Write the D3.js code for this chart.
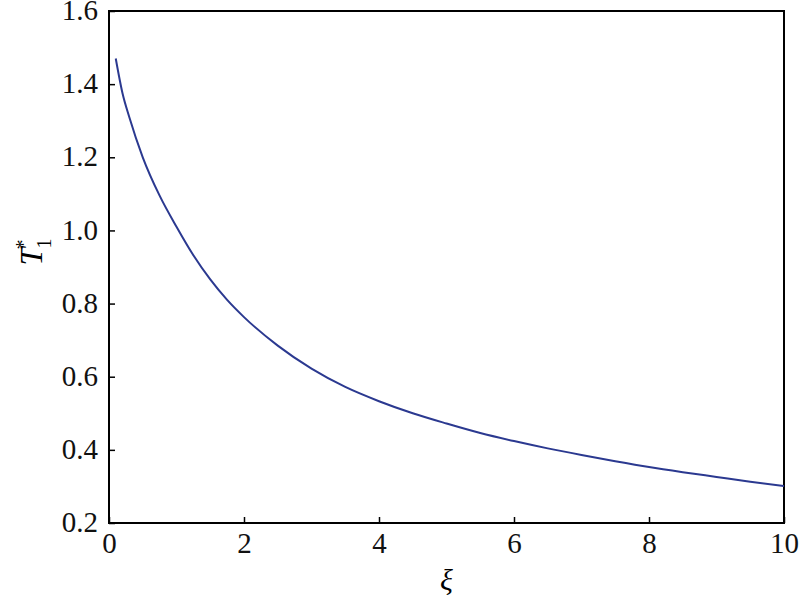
<!DOCTYPE html>
<html>
<head>
<meta charset="utf-8">
<script src="https://cdn.jsdelivr.net/npm/d3@7"></script>
<style>
  body { margin: 0; background: #fff; }
  svg, svg text { font-family: "Liberation Serif", "Times New Roman", serif !important; }
</style>
</head>
<body>
<script>
// values
const xi = [0.1, 0.2, 0.3, 0.5, 0.75, 1.0, 1.25, 1.5, 1.75, 2.0, 2.5, 3.0, 3.5, 4.0, 4.5, 5.0, 5.5, 6.0, 6.5, 7.0, 7.5, 8.0, 8.5, 9.0, 9.5, 10];
const T1 = [1.47, 1.375, 1.31, 1.20, 1.095, 1.01, 0.932, 0.866, 0.81, 0.763, 0.685, 0.622, 0.572, 0.533, 0.500, 0.472, 0.446, 0.424, 0.404, 0.386, 0.369, 0.353, 0.339, 0.326, 0.313, 0.301];
const xTicks = [0, 2, 4, 6, 8, 10];
const yTicks = [0.2, 0.4, 0.6, 0.8, 1.0, 1.2, 1.4, 1.6];

const svgWidth = 800;
const svgHeight = 601;
const margin = { left: 109, right: 16, top: 11, bottom: 78 };
const width = svgWidth - margin.left - margin.right;
const height = svgHeight - margin.top - margin.bottom;

const svg = d3.select('body').append('svg')
  .attr('width', svgWidth)
  .attr('height', svgHeight);

const g = svg.append('g')
  .attr('transform', `translate(${margin.left}, ${margin.top})`);

const x = d3.scaleLinear().domain([0, 10]).range([0, width]);
const y = d3.scaleLinear().domain([0.2, 1.6]).range([height, 0]);

// frame
g.append('rect')
  .attr('width', width).attr('height', height)
  .attr('fill', 'none').attr('stroke', '#000').attr('stroke-width', 2);

// bottom axis, ticks inward
const xAxis = g.append('g')
  .attr('transform', `translate(0, ${height})`)
  .call(d3.axisBottom(x).tickValues(xTicks).tickSizeInner(-6).tickSizeOuter(0).tickPadding(9).tickFormat(d3.format('d')));
xAxis.select('.domain').remove();
xAxis.selectAll('line').attr('stroke-width', 1.5);
xAxis.selectAll('text').style('font-size', '29px').attr('fill', '#111');

// left axis
const yAxis = g.append('g')
  .call(d3.axisLeft(y).tickValues(yTicks).tickSizeInner(-6).tickSizeOuter(0).tickPadding(11).tickFormat(d3.format('.1f')));
yAxis.select('.domain').remove();
yAxis.selectAll('line').attr('stroke-width', 1.5);
yAxis.selectAll('text').style('font-size', '29px').attr('fill', '#111').attr('dy', '0.3em');

// curve
const pts = xi.map((d, i) => [d, T1[i]]);
g.append('path')
  .datum(pts)
  .attr('fill', 'none')
  .attr('stroke', '#2b3990')
  .attr('stroke-width', 2)
  .attr('d', d3.line().x(d => x(d[0])).y(d => y(d[1])).curve(d3.curveMonotoneX));

// axis titles
svg.append('text')
  .attr('x', margin.left + width / 2)
  .attr('y', 590)
  .attr('text-anchor', 'middle')
  .style('font-size', '30px')
  .style('font-style', 'italic')
  .text('ξ');

const yl = svg.append('text')
  .attr('transform', 'translate(42, 252) rotate(-90)')
  .attr('text-anchor', 'middle')
  .style('font-size', '32px');
yl.append('tspan').style('font-style', 'italic').text('T');
yl.append('tspan').style('font-size', '20px').attr('dy', -12).attr('dx', -2).text('*');
yl.append('tspan').style('font-size', '20px').attr('dy', 21).attr('dx', -9).text('1');
</script>
</body>
</html>
